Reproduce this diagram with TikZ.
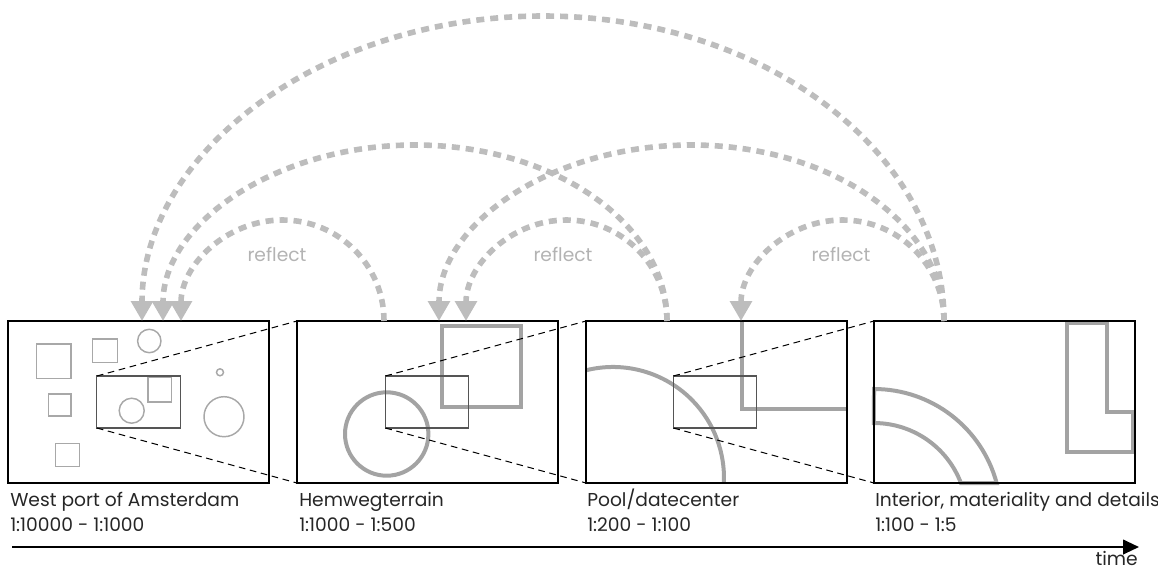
\documentclass[tikz,border=0pt]{standalone}
\usepackage{fontspec}
\setmainfont{Poppins}
\usetikzlibrary{arrows.meta,calc}
\definecolor{arcgray}{HTML}{BDBDBD}
\definecolor{shapegray}{HTML}{A8A8A8}
\definecolor{thickgray}{HTML}{A3A3A3}
\definecolor{zoomgray}{HTML}{555555}
\definecolor{taggray}{HTML}{B3B3B3}
\begin{document}
\begin{tikzpicture}[x=0.75pt,y=0.75pt,
  panel/.style={draw=black, line width=1.5pt, minimum width=195.75pt,
    minimum height=121.5pt, inner sep=0pt, outer sep=0pt},
  zoombox/.style={draw=zoomgray, line width=0.8pt, minimum width=62.5pt,
    minimum height=39pt, inner sep=0pt, outer sep=0pt},
  proj/.style={draw=black, line width=0.75pt, dash pattern=on 5pt off 3.5pt},
  fine/.style={draw=shapegray, line width=1.1pt},
  bold/.style={draw=thickgray, line width=3pt},
  loop/.style={draw=arcgray, line width=4.2pt, dash pattern=on 6pt off 4.5pt,
    -{Triangle[length=15pt,width=16pt]}},
  caption/.style={anchor=base west, inner sep=0pt, align=left,
    font=\fontsize{14}{18.5}\selectfont, text=black!85},
  tag/.style={anchor=base, inner sep=0pt, font=\fontsize{14}{18}\selectfont,
    text=taggray}
]
\useasboundingbox (0,0) rectangle (1158,-569);

% --- contents of the four panels (drawn first, under the frames) ---
% West port
\draw[fine] (36.7,-344) rectangle (71,-378.7);
\draw[fine] (92.7,-339) rectangle (117.3,-362.3);
\draw[fine] (48.3,-394) rectangle (71,-416);
\draw[fine] (148,-377.7) rectangle (171.7,-402);
\draw[fine] (55.7,-443.3) rectangle (79.3,-466.3);
\draw[fine] (149.3,-341) circle[radius=11.7];
\draw[fine] (220,-372.3) circle[radius=3.5];
\draw[fine] (131.7,-410.7) circle[radius=12.5];
\draw[fine] (224,-416.7) circle[radius=20];
% Hemwegterrain
\draw[bold] (441.7,-326) rectangle (520.7,-406.7);
\draw[bold] (386.7,-434) circle[radius=41.7];
% Pool / datacenter
\draw[bold] (586,-370.3) arc[start angle=104.08, end angle=-2.58, radius=111];
\draw[bold] (742,-321) -- (742,-409) -- (847,-409);
% Interior
\draw[bold] (874,-389) arc[start angle=90, end angle=15.06, radius=127]
  -- (960.9,-483) arc[start angle=20.8, end angle=90, radius=93] -- cycle;
\draw[bold] (1067,-323) -- (1107,-323) -- (1107,-412) -- (1133,-412)
  -- (1133,-452) -- (1067,-452) -- cycle;

% --- panels and zoom windows ---
\node[panel] (p1) at (138.5,-402) {};
\node[panel] (p2) at (427.5,-402) {};
\node[panel] (p3) at (716.5,-402) {};
\node[panel] (p4) at (1004.5,-402) {};
\node[zoombox] (z1) at (138.5,-402) {};
\node[zoombox] (z2) at (427,-402) {};
\node[zoombox] (z3) at (715,-402) {};

\draw[proj] (z1.north west) -- (p2.north west);
\draw[proj] (z1.south west) -- (p2.south west);
\draw[proj] (z2.north west) -- (p3.north west);
\draw[proj] (z2.south west) -- (p3.south west);
\draw[proj] (z3.north west) -- (p4.north west);
\draw[proj] (z3.south west) -- (p4.south west);

% --- captions (anchored on the baseline of their last line) ---
\node[caption] (c1) at (10,-531) {West port of Amsterdam\\1:10000 - 1:1000};
\node[caption] (c2) at (299,-531) {Hemwegterrain\\1:1000 - 1:500};
\node[caption] (c3) at (587,-531) {Pool/datecenter\\1:200 - 1:100};
\node[caption] (c4) at (875,-531) {Interior, materiality and details\\1:100 - 1:5};

% --- feedback loops ---
\coordinate (t2) at (384,-321);
\coordinate (t3) at (667,-321);
\coordinate (t4) at (944,-321);
\coordinate (h1a) at (142,-321);
\coordinate (h1b) at (163,-321);
\coordinate (h1c) at (181,-321);
\coordinate (h2a) at (439,-321);
\coordinate (h2b) at (466,-321);
\coordinate (h3) at (741,-321);

\draw[loop] (t4) arc[start angle=0, end angle=180, x radius=401, y radius=305];
\draw[loop] (t3) arc[start angle=0, end angle=180, x radius=252, y radius=176];
\draw[loop] (t4) arc[start angle=0, end angle=180, x radius=252.5, y radius=176];
\draw[loop] (t2) arc[start angle=0, end angle=180, x radius=101.5, y radius=101];
\draw[loop] (t3) arc[start angle=0, end angle=180, x radius=100.5, y radius=101];
\draw[loop] (t4) arc[start angle=0, end angle=180, x radius=101.5, y radius=101];

\node[tag] (r1) at (277,-261) {reflect};
\node[tag] (r2) at (563,-261) {reflect};
\node[tag] (r3) at (841,-261) {reflect};

% --- time axis ---
\coordinate (a0) at (12,-547);
\coordinate (a1) at (1139,-547);
\draw[line width=1.5pt, -{Triangle[length=12pt,width=11pt]}] (a0) -- (a1);
\node[anchor=base east, inner sep=0pt, font=\fontsize{14}{18}\selectfont,
  text=black!85] (tm) at (1138,-565) {time};
\end{tikzpicture}
\end{document}
